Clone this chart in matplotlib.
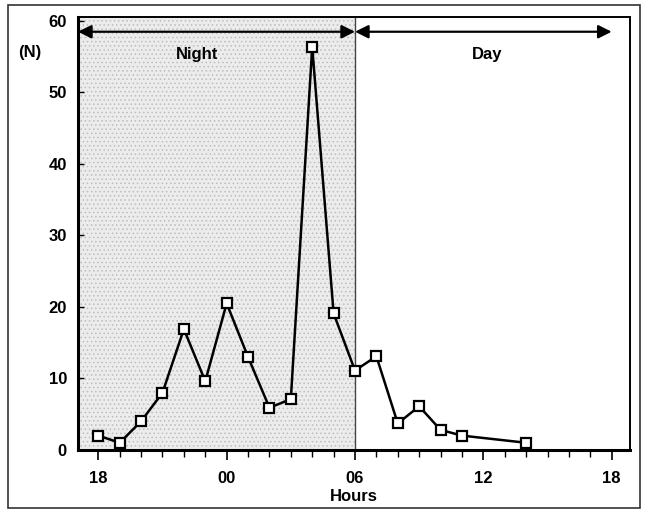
import matplotlib.pyplot as plt
from matplotlib.patches import Rectangle
from matplotlib.ticker import MultipleLocator

plt.rcParams['font.family'] = ['Liberation Sans', 'DejaVu Sans']
plt.rcParams['font.weight'] = 'bold'
plt.rcParams['hatch.linewidth'] = 0.6

# hours counted from 18:00
hours = [0, 1, 2, 3, 4, 5, 6, 7, 8, 9, 10, 11, 12, 13, 14, 15, 16, 17, 20]
counts = [2.0, 1.0, 4.0, 8.0, 16.9, 9.6, 20.5, 13.0, 5.9, 7.1, 56.4,
          19.1, 11.1, 13.1, 3.7, 6.1, 2.8, 2.0, 1.0]
tick_pos = [0, 6, 12, 18, 24]
tick_labels = ['18', '00', '06', '12', '18']
dawn = 12

fig = plt.figure(figsize=(6.5, 5.13), dpi=100)
ax = fig.add_axes([0.12, 0.123, 0.849, 0.843])

# outer frame
fig.patches.append(Rectangle((0.012, 0.01), 0.973, 0.98, transform=fig.transFigure,
                             fill=False, edgecolor='#333333', linewidth=1.2))

ax.set_xlim(-0.95, 24.85)
ax.set_ylim(0, 60.5)

# night shading
ax.axvspan(-0.95, dawn, facecolor='#ececec', edgecolor='#bdbdbd',
           hatch='....', linewidth=0, zorder=0)
ax.axvline(dawn, color='#444444', linewidth=1.0, zorder=1)

ax.plot(hours, counts, color='black', linewidth=1.8, marker='s', markersize=6.5,
        markerfacecolor='white', markeredgecolor='black', markeredgewidth=1.6, zorder=3)

# night / day arrows
ax.annotate('', xy=(-0.95, 58.5), xytext=(dawn, 58.5),
            arrowprops=dict(arrowstyle='<|-|>', color='black', lw=1.6,
                            mutation_scale=20, shrinkA=0, shrinkB=0))
ax.annotate('', xy=(dawn, 58.5), xytext=(24.0, 58.5),
            arrowprops=dict(arrowstyle='<|-|>', color='black', lw=1.6,
                            mutation_scale=20, shrinkA=0, shrinkB=0))
ax.text(4.6, 55.3, 'Night', fontsize=12, fontweight='bold', ha='center', va='center')
ax.text(18.2, 55.3, 'Day', fontsize=12, fontweight='bold', ha='center', va='center')

ax.set_xticks(tick_pos)
ax.set_xticklabels(tick_labels)
ax.xaxis.set_minor_locator(MultipleLocator(1))
ax.set_yticks(range(0, 61, 10))
ax.tick_params(axis='x', which='major', direction='out', length=7, width=1.2,
               labelsize=12, pad=8)
ax.tick_params(axis='x', which='minor', direction='out', length=5, width=1.0)
ax.tick_params(axis='y', direction='in', length=4, width=1.0, labelsize=12, pad=8)
for lab in ax.get_xticklabels() + ax.get_yticklabels():
    lab.set_fontweight('bold')

for side in ['left', 'bottom']:
    ax.spines[side].set_linewidth(2.2)
for side in ['top', 'right']:
    ax.spines[side].set_linewidth(1.4)

ax.set_xlabel('Hours', fontsize=12, fontweight='bold', labelpad=2)
fig.text(0.046, 0.898, '(N)', fontsize=12, fontweight='bold', ha='center', va='center')

fig.savefig('out.png', dpi=100, facecolor='white')
